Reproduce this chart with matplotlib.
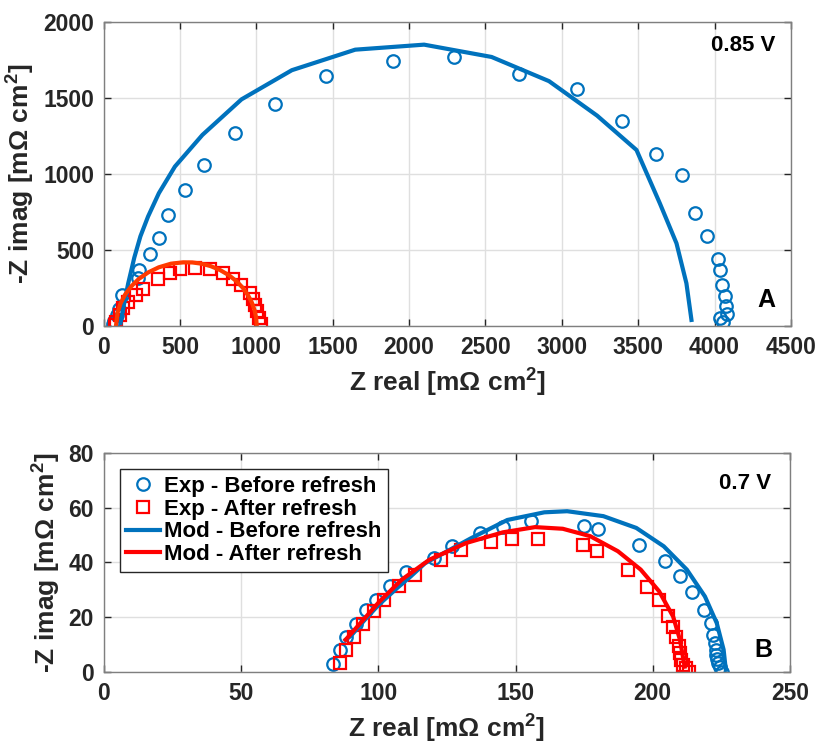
import matplotlib.pyplot as plt

plt.rcParams['font.family'] = ['Liberation Sans', 'DejaVu Sans']
plt.rcParams['font.weight'] = 'bold'
plt.rcParams['mathtext.fontset'] = 'custom'
plt.rcParams['mathtext.rm'] = 'Liberation Sans:bold'
plt.rcParams['mathtext.bf'] = 'Liberation Sans:bold'
plt.rcParams['mathtext.default'] = 'bf'

BLUE = '#0072BD'
RED = '#FF0000'
RED_TOP = '#FF3A00'

# ---- 0.85 V data ----
exp_before_085_x = [60, 70, 85, 100, 120, 222, 234, 301, 361, 424, 529, 655, 860, 1121, 1455,
                    1897, 2294, 2717, 3102, 3394, 3619, 3788, 3875, 3950, 4025, 4037,
                    4049, 4067, 4076, 4082, 4034, 4058]
exp_before_085_y = [15, 35, 70, 110, 201, 317, 367, 474, 581, 730, 898, 1058, 1268, 1458, 1644,
                    1744, 1768, 1661, 1558, 1351, 1132, 992, 745, 590, 439, 367,
                    269, 195, 131, 77, 55, 26]
exp_after_085_x = [75, 83, 105, 127, 160, 214, 258, 356, 432, 498, 596, 694, 782, 847, 902,
                   956, 978, 993, 1006, 1017, 1033]
exp_after_085_y = [8, 28, 72, 116, 160, 204, 241, 307, 346, 373, 379, 373, 346, 307, 270,
                   219, 175, 138, 99, 55, 11]
mod_before_085_x = [110, 130, 160, 200, 240, 290, 361, 466, 646, 902, 1232, 1647, 2098, 2540,
                    2916, 3231, 3489, 3642, 3751, 3816, 3849]
mod_before_085_y = [20, 130, 280, 450, 590, 720, 874, 1049, 1257, 1491, 1683, 1818, 1851, 1770,
                    1611, 1384, 1158, 807, 544, 281, 40]
mod_after_085_x = [80, 90, 110, 140, 180, 230, 290, 360, 440, 520, 580, 640, 700, 760, 820,
                   870, 910, 945, 970, 988, 998, 1002]
mod_after_085_y = [0, 87, 149, 207, 261, 310, 352, 386, 410, 419, 418, 410, 394, 369, 334,
                   294, 252, 202, 154, 103, 55, 0]

# ---- 0.7 V data ----
exp_before_07_x = [83.6, 85.9, 88.4, 91.8, 95.5, 99.3, 104.4, 110.2, 120.3, 127, 137, 145.4,
                   155.8, 175, 180, 195.1, 204.4, 209.9, 214.4, 218.6, 221.1, 222.1, 222.6,
                   223, 223.2, 223.5, 223.8, 224.5, 225.3]
exp_before_07_y = [2.9, 8.2, 12.8, 17.7, 22.5, 26.4, 31.3, 36.4, 41.7, 46, 50.8, 53, 55,
                   53.2, 52.3, 46.5, 40.4, 35, 29.1, 22.8, 17.9, 13.6, 10.6, 8.2, 6.3,
                   4.8, 3.3, 1.8, 0.2]
exp_after_07_x = [85.9, 88.1, 91, 94.3, 98.5, 102.2, 107.5, 113.2, 122.8, 130, 141.2, 148.7,
                  158.3, 174.4, 179.6, 191, 198, 202.3, 205.4, 207.4, 208.5, 209.4, 209.9,
                  210.4, 211.1, 212.1, 213.2]
exp_after_07_y = [3.3, 8.2, 13, 17.7, 22.2, 26.2, 31.3, 35.6, 40.8, 44.5, 47.5, 48.7, 48.7,
                  46.2, 44.3, 37.1, 31.1, 26.4, 20.6, 16.4, 13, 9.4, 6.9, 4.5, 2.7, 1.5, 0]
mod_before_07_x = [88.1, 90.1, 95.1, 100.2, 106.9, 111.9, 117, 133.7, 147, 160.5, 168.8, 182,
                   194, 204, 212.4, 219, 223.3, 225.8, 226.6]
mod_before_07_y = [11.8, 13.3, 19.1, 24.6, 30.7, 35, 39.7, 48.8, 55.5, 58.3, 58.7, 56.9,
                   52.6, 45.9, 37.4, 27.6, 17.9, 8.2, 0.9]
mod_after_07_x = [88.1, 93.5, 100.2, 108.5, 118.6, 132, 145.4, 157.1, 167.2, 177.2, 187.3,
                  195.6, 202.3, 207.4, 209.9, 211.6]
mod_after_07_y = [11.8, 17.9, 25.5, 33.7, 41, 47.1, 51, 52.9, 52.3, 49.6, 44.1, 37.4, 29.5,
                  20.3, 11.8, 2]

fig = plt.figure(figsize=(8.17, 7.46), dpi=100)
ax1 = fig.add_axes([0.127, 0.563, 0.841, 0.4075])
ax2 = fig.add_axes([0.127, 0.099, 0.840, 0.294])

label_x = r'Z real [m$\Omega$ cm$^2$]'
label_y = r'-Z imag [m$\Omega$ cm$^2$]'

ax1.plot(exp_before_085_x, exp_before_085_y, 'o', ms=9, mfc='none', mec=BLUE, mew=1.6)
ax1.plot(exp_after_085_x, exp_after_085_y, 's', ms=8, mfc='none', mec=RED, mew=1.6)
ax1.plot(mod_before_085_x, mod_before_085_y, '-', color=BLUE, lw=3)
ax1.plot(mod_after_085_x, mod_after_085_y, '-', color=RED_TOP, lw=3)
ax1.set_xlim(0, 4500)
ax1.set_ylim(0, 2000)
ax1.set_xticks(range(0, 4501, 500))
ax1.set_yticks(range(0, 2001, 500))
ax1.text(0.977, 0.924, '0.85 V', transform=ax1.transAxes, ha='right', va='center',
         fontsize=16, fontweight='bold')
ax1.text(0.964, 0.085, 'A', transform=ax1.transAxes, ha='center', va='center',
         fontsize=18, fontweight='bold')

ax2.plot(exp_before_07_x, exp_before_07_y, 'o', ms=9, mfc='none', mec=BLUE, mew=1.6,
         label='Exp - Before refresh')
ax2.plot(exp_after_07_x, exp_after_07_y, 's', ms=8, mfc='none', mec=RED, mew=1.6,
         label='Exp - After refresh')
ax2.plot(mod_before_07_x, mod_before_07_y, '-', color=BLUE, lw=3, label='Mod - Before refresh')
ax2.plot(mod_after_07_x, mod_after_07_y, '-', color=RED, lw=3, label='Mod - After refresh')
ax2.set_xlim(0, 250)
ax2.set_ylim(0, 80)
ax2.set_xticks(range(0, 251, 50))
ax2.set_yticks(range(0, 81, 20))
ax2.text(0.972, 0.858, '0.7 V', transform=ax2.transAxes, ha='right', va='center',
         fontsize=16, fontweight='bold')
ax2.text(0.961, 0.10, 'B', transform=ax2.transAxes, ha='center', va='center',
         fontsize=18, fontweight='bold')
leg = ax2.legend(loc='upper left', bbox_to_anchor=(0.023, 0.925), borderaxespad=0,
                 fontsize=16, fancybox=False, edgecolor='#262626', framealpha=1,
                 handlelength=1.5, handletextpad=0.2, labelspacing=0.08, borderpad=0.3)
leg.get_frame().set_linewidth(1.0)

for ax in (ax1, ax2):
    ax.grid(True, color='#DFDFDF', lw=1)
    ax.set_axisbelow(True)
    ax.tick_params(direction='in', length=5, width=1, top=True, right=True,
                   labelsize=16.5, colors='#262626', pad=7)
    for lbl in ax.get_xticklabels() + ax.get_yticklabels():
        lbl.set_fontweight('bold')
    for s in ax.spines.values():
        s.set_color('#7F7F7F')
        s.set_linewidth(1)
    ax.set_xlabel(label_x, fontsize=19, fontweight='bold', color='#262626', labelpad=6)
    ax.set_ylabel(label_y, fontsize=19, fontweight='bold', color='#262626', labelpad=4)

plt.savefig('out.png', dpi=100)
